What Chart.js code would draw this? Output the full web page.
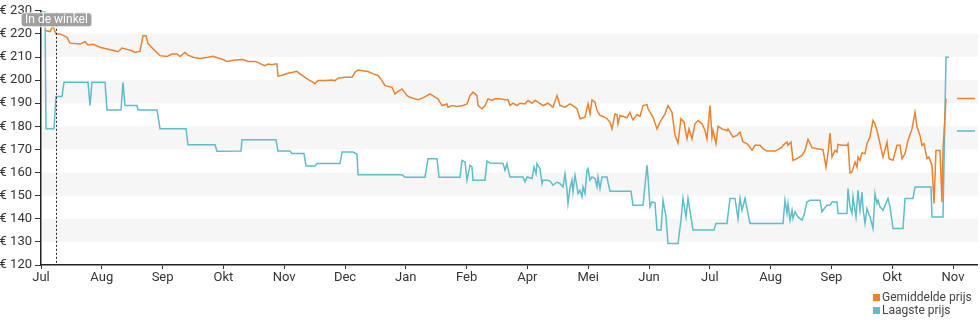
<!DOCTYPE html>
<html>
<head>
<meta charset="utf-8">
<script src="https://cdn.jsdelivr.net/npm/chart.js@4"></script>
<style>
  html, body { margin: 0; padding: 0; background: #fff; }
  #wrap { position: relative; width: 980px; height: 325px; }
  #legend { position: absolute; left: 873px; top: 291px; font: 12px Roboto, sans-serif; color: #444; line-height: 13px; }
  #legend span.box { display: inline-block; width: 7px; height: 7px; margin-right: 2px; vertical-align: 0px; }
</style>
</head>
<body>
<div id="wrap">
  <canvas id="priceChart" width="980" height="325"></canvas>
  <div id="legend"></div>
</div>
<script>
// month tick labels (one per month, equal spacing)
const monthLabels = ['Jul', 'Aug', 'Sep', 'Okt', 'Nov', 'Dec', 'Jan', 'Feb', 'Apr', 'Mei', 'Jun', 'Jul', 'Aug', 'Sep', 'Okt', 'Nov'];
const daysPerMonth = 30.4;
const inStoreDay = 7.5;

// Gemiddelde prijs (average price), day offset since start + price
const avgDay = [2, 4.5, 6, 7.5, 9.5, 13, 14.5, 19.5, 22, 23.5, 26, 29.5, 33, 37, 38.5, 40.5, 43, 45.5, 47, 49.5,
  51, 52.5, 53.5, 56, 59.5, 63, 65.5, 68, 69.5, 72, 73.5, 76, 79.5, 83.5, 86, 88.5, 91, 93, 97, 101,
  103.5, 107, 108.5, 110.5, 112, 113.5, 115.5, 117, 118, 118.5, 121, 123.5, 126, 128, 129.5, 132, 134.5, 136, 137, 138.5,
  142, 145.5, 147, 148.5, 152, 155.5, 157, 158.5, 161, 163.5, 166, 168.5, 170.5, 172, 175.5, 177, 178, 180.5, 183, 184.5,
  187, 188.5, 191, 193, 194.5, 197, 198.5, 200.5, 203, 203.5, 205.5, 208, 211, 213, 214.5, 216, 218, 218.5, 220.5, 222,
  223.5, 225.5, 227, 229.5, 232, 233.5, 234.5, 236, 238, 239.5, 242, 243.5, 245.5, 247, 248.5, 251, 253.5, 256, 258, 259.5,
  262, 264.5, 266, 268, 269.5, 272, 273.5, 274.5, 275.5, 277, 278, 279.5, 281, 283, 284.5, 285.5, 287, 288, 288.5, 289.5,
  291, 293, 294.5, 295.5, 296, 298, 299.5, 301, 303, 303.5, 306, 308, 309.5, 312, 313.5, 315.5, 317, 318.5, 320, 321.5,
  323, 324, 325.5, 327, 328.5, 330.5, 332, 333, 334.5, 335.5, 336, 337.5, 338.5, 340.5, 343, 343.5, 344.5, 346, 348, 349.5,
  351, 353, 354.5, 355.5, 357, 359.5, 361, 363, 367, 368.5, 370.5, 371, 373, 373.5, 375, 376, 378, 380.5, 382, 383.5,
  385.5, 388, 391, 392.5, 393.5, 394.5, 395.5, 397, 398, 398.5, 400.5, 403, 403.5, 404.5, 405.5, 407, 408, 408.5, 409.5, 410.5,
  412, 413, 414.5, 416, 417, 418, 419.5, 421, 423, 424, 426, 428, 429.5, 430.5, 432, 433.5, 435.5, 437, 438, 439.5,
  440.5, 441.5, 443, 444, 445.5, 446.5, 447.5, 448.5, 449.5, 450.5, 451, 452.5];
const avgPrice = [221.5, 221, 223.5, 220, 220, 218.5, 216, 215.6, 216.6, 215.2, 215.5, 214.2, 213.5, 212.7, 212.3, 213.9, 213.3, 212.7, 212, 212.5,
  219.2, 219.2, 215.8, 213.6, 210.6, 210.2, 211.3, 211.3, 210.2, 212, 210.8, 209.9, 209.4, 209.9, 210.3, 209.6, 208.9, 208.1, 208.7, 208.9,
  208.1, 208.1, 207.7, 206.7, 206.3, 207, 206.7, 207, 207, 201.7, 202.2, 203, 203.4, 203.8, 202.7, 201.2, 199.8, 199.1, 198.4, 199.8,
  199.8, 200.1, 199.8, 200.8, 201.2, 201.2, 203.4, 204.4, 204.1, 203.7, 202.7, 202, 199.8, 197.6, 196.9, 194, 194.8, 196.2, 193.3, 192.6,
  191.9, 191.5, 192.3, 193.3, 194, 192.6, 191.9, 189, 189.7, 188.3, 189, 188.6, 189, 189.7, 193.3, 194.8, 193.3, 189, 187.6, 189,
  191.9, 191.2, 191.9, 191.9, 191.5, 191.5, 189, 190, 189, 190, 189.7, 191.2, 190, 191.2, 190.5, 189, 190, 188.3, 193.3, 189,
  188.3, 189.7, 189, 187.6, 183.3, 184, 189.7, 185.4, 191.5, 190.5, 186.9, 184.7, 184.3, 183.3, 181.8, 178.9, 185.4, 185.1, 181.1, 184.7,
  184.3, 183.7, 186.1, 183.7, 182.8, 185.1, 184.3, 189, 189.4, 187.6, 184, 178.9, 181.8, 185.4, 189, 186.1, 176.1, 172.8, 183.3, 181.8,
  174.6, 178.9, 174.6, 181.1, 182.5, 181.1, 178.2, 174.6, 189, 175.4, 178.2, 172.5, 180, 178.9, 178.2, 178.9, 177.5, 175.4, 176.1, 177.5,
  173.2, 172.5, 171, 169.6, 171.8, 171.8, 170.3, 169.3, 169.3, 169.9, 171, 171.8, 173.2, 171.8, 173.2, 165.3, 166, 167.4, 169.6, 174.4,
  170.8, 170.3, 169.9, 162.4, 168.2, 177.1, 166.7, 169.6, 168.9, 172.2, 171.8, 171.8, 172.5, 159.8, 160.3, 164.6, 162.4, 166.7, 165.3, 168.5,
  168.2, 172.5, 175.6, 182.5, 181.1, 178.2, 172.5, 166.7, 173.2, 166, 165.3, 171.8, 171.8, 166, 168.2, 173.9, 178.9, 186.1, 179.7, 176.1,
  171.8, 172.5, 166, 166.7, 163.1, 146.6, 169.6, 169.6, 169.6, 147.3, 169.6, 192];

// Laagste prijs (lowest price)
const lowDay = [0.5, 2, 2.5, 6.5, 7.5, 10.5, 11.5, 23.5, 24.5, 25.5, 32, 33, 40, 41, 42, 48, 48.5, 58, 59.5, 72.5,
  73.5, 87, 88, 100, 100.5, 117.5, 118.5, 124.5, 125.5, 131.5, 132.5, 137, 138, 149.5, 150.5, 156, 158, 158.5, 180.5, 182,
  192, 193.5, 198, 199, 209.5, 210.5, 212, 213, 214.5, 215.5, 216, 222, 223, 224.5, 231, 232, 233, 233.5, 234.5, 241,
  242, 243, 245.5, 246.5, 247.5, 248, 249.5, 250.5, 251, 253, 254.5, 256, 258, 259.5, 261, 262, 263, 263.5, 264.5, 265.5,
  266, 267, 268, 268.5, 269.5, 270.5, 271, 272, 273, 273.5, 274.5, 275.5, 277, 278, 278.5, 279.5, 280.5, 283, 283.5, 284.5,
  295, 296, 301, 303, 303.5, 304.5, 305.5, 307, 308, 310, 311, 312.5, 313.5, 318.5, 320, 321, 322.5, 323.5, 326, 336.5,
  337.5, 343, 344.5, 347, 348.5, 349.5, 350.5, 352, 354.5, 370.5, 371, 372, 373, 373.5, 374.5, 375.5, 376, 377, 378.5, 380.5,
  381.5, 383, 384.5, 389.5, 390.5, 391, 393, 394.5, 395.5, 398, 398.5, 403, 403.5, 404.5, 405.5, 406, 407.5, 408.5, 409.5, 410.5,
  411, 412, 413, 413.5, 414.5, 416, 417, 418, 418.5, 419.5, 421, 423.5, 424.5, 426, 431, 432, 436, 437, 445, 445.5,
  451, 452.5, 454];
const lowPrice = [229.5, 229.5, 179, 179, 192.9, 192.9, 199.1, 199.1, 189, 199.1, 199.1, 187.1, 187.1, 199, 189, 189, 187.1, 187.1, 179, 179,
  172, 172, 169.2, 169.3, 174.2, 174.2, 169.3, 169.3, 168.2, 168.2, 162.8, 162.8, 163.9, 163.9, 168.9, 168.9, 167.9, 159.1, 159.1, 158,
  158, 166, 166, 158, 158, 165.3, 164.6, 156.7, 163.1, 162.4, 156.7, 156.7, 165, 164.1, 163.9, 161, 163.9, 161.7, 158.1, 158.1,
  155.9, 158.1, 157.4, 162.4, 159.5, 163.9, 161.7, 155.2, 156.7, 156.7, 156.4, 154.5, 155.9, 155.2, 153.8, 159.5, 152.3, 146.6, 153.1, 156.7,
  151.6, 158.8, 153.8, 150.9, 152.3, 149.5, 153.8, 150.9, 161, 161.7, 156.7, 158.1, 157.4, 153.8, 158.1, 153.1, 158.1, 158.1, 155.9, 151.9,
  151.9, 145.9, 145.9, 163.1, 158.1, 145.2, 147.3, 146.9, 135.1, 135.1, 148, 140.8, 129.3, 129.3, 139.4, 148.8, 140.8, 148.8, 135.1, 135.1,
  138, 138, 148.8, 148.8, 140.1, 148.8, 143.7, 148.8, 138, 138, 138, 148, 142.3, 146.6, 139.4, 143.7, 140.1, 143, 140.8, 139.4,
  141.6, 147.3, 148, 148, 143, 143.7, 145.9, 145.9, 147.3, 147.3, 142.3, 142.3, 153.1, 145.2, 142.3, 149.5, 140.8, 152.3, 143.7, 151.6,
  144.4, 138, 144.4, 143, 140.8, 135.8, 150.9, 146.6, 148, 145.2, 143.7, 148.8, 145.2, 135.8, 135.8, 148.8, 148.8, 153.8, 153.8, 140.8,
  140.8, 209.9, 209.9];

// current prices shown as short markers at the right edge
const currentDays = [458, 467];
const currentAvg = 192;
const currentLow = 178;

const orange = '#ea8230';
const teal = '#5dbdc8';

const zip = (xs, ys) => xs.map((x, i) => ({ x: x, y: ys[i] }));

const bandsPlugin = {
  id: 'bands',
  beforeDatasetsDraw(chart) {
    const { ctx, chartArea, scales } = chart;
    const y = scales.y;
    ctx.save();
    ctx.fillStyle = '#f6f6f6';
    for (let v = 130; v < 230; v += 20) {
      const top = y.getPixelForValue(v + 10);
      const bottom = y.getPixelForValue(v);
      ctx.fillRect(chartArea.left + 1, top, chartArea.right - chartArea.left, bottom - top);
    }
    ctx.restore();
  }
};

const inStorePlugin = {
  id: 'inStore',
  afterDatasetsDraw(chart) {
    const { ctx, chartArea, scales } = chart;
    const x = Math.round(scales.x.getPixelForValue(inStoreDay)) + 0.5;
    ctx.save();
    ctx.strokeStyle = '#222';
    ctx.lineWidth = 1;
    ctx.setLineDash([2, 2]);
    ctx.beginPath();
    ctx.moveTo(x, chartArea.top + 2);
    ctx.lineTo(x, chartArea.bottom);
    ctx.stroke();
    ctx.setLineDash([]);

    const label = 'In de winkel';
    ctx.font = '12px Roboto, sans-serif';
    const w = ctx.measureText(label).width + 8;
    const h = 14;
    const bx = x - w / 2;
    const by = chartArea.top + 2;
    ctx.fillStyle = 'rgba(150,150,150,0.9)';
    ctx.strokeStyle = 'rgba(255,255,255,0.9)';
    ctx.beginPath();
    ctx.roundRect(bx, by, w, h, 3);
    ctx.fill();
    ctx.stroke();
    ctx.fillStyle = '#fff';
    ctx.textBaseline = 'middle';
    ctx.textAlign = 'center';
    ctx.fillText(label, x, by + h / 2 + 0.5);
    ctx.restore();
  }
};

const ctx = document.getElementById('priceChart').getContext('2d');
new Chart(ctx, {
  type: 'line',
  data: {
    datasets: [
      { label: 'Gemiddelde prijs', data: zip(avgDay, avgPrice), borderColor: orange, backgroundColor: orange, borderWidth: 1.5, pointRadius: 0, tension: 0 },
      { label: 'Laagste prijs', data: zip(lowDay, lowPrice), borderColor: teal, backgroundColor: teal, borderWidth: 1.5, pointRadius: 0, tension: 0 },
      { label: 'avg-now', data: currentDays.map(d => ({ x: d, y: currentAvg })), borderColor: orange, borderWidth: 1.5, pointRadius: 0 },
      { label: 'low-now', data: currentDays.map(d => ({ x: d, y: currentLow })), borderColor: teal, borderWidth: 1.5, pointRadius: 0 }
    ]
  },
  options: {
    responsive: false,
    animation: false,
    parsing: true,
    layout: { padding: { top: 10, right: 3, left: 0, bottom: 0 } },
    scales: {
      x: {
        type: 'linear',
        min: 0,
        max: 468,
        afterFit: (scale) => { scale.height = 60; },
        afterBuildTicks: (scale) => {
          scale.ticks = monthLabels.map((_, i) => ({ value: i * daysPerMonth }));
        },
        ticks: {
          autoSkip: false,
          maxRotation: 0,
          padding: 1,
          color: '#333',
          font: { family: 'Roboto', size: 13 },
          callback: (value, index) => monthLabels[index]
        },
        grid: { drawOnChartArea: false, tickLength: 4, color: '#333' },
        border: { color: '#222', width: 1.5 }
      },
      y: {
        min: 120,
        max: 230,
        afterFit: (scale) => { scale.width = 41; },
        ticks: {
          stepSize: 10,
          padding: 3,
          color: '#333',
          font: { family: 'Roboto', size: 13 },
          callback: (v) => '€ ' + v
        },
        grid: { drawOnChartArea: false, tickLength: 6, color: '#333' },
        border: { color: '#222', width: 1.5 }
      }
    },
    plugins: {
      legend: { display: false },
      tooltip: { enabled: false }
    }
  },
  plugins: [bandsPlugin, inStorePlugin]
});

// legend in the bottom right corner
const legend = document.getElementById('legend');
[['Gemiddelde prijs', orange], ['Laagste prijs', teal]].forEach(([name, color]) => {
  const row = document.createElement('div');
  row.innerHTML = `<span class="box" style="background:${color}"></span>${name}`;
  legend.appendChild(row);
});
</script>
</body>
</html>
